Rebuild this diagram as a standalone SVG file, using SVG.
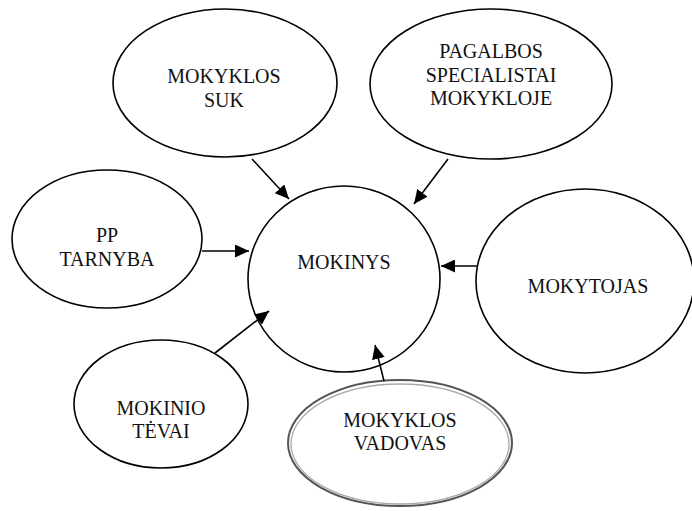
<svg xmlns="http://www.w3.org/2000/svg" width="692" height="511" viewBox="0 0 692 511">
<style>
.n{fill:#fff;stroke:#000;stroke-width:1.6}
.t{font-family:"Liberation Serif","Times New Roman",serif;font-size:20px;fill:#111;text-anchor:middle}
.c{stroke:#000;stroke-width:1.6;fill:none;marker-end:url(#ah)}
</style>
<defs>
<marker id="ah" markerUnits="userSpaceOnUse" markerWidth="15" markerHeight="13" refX="14" refY="6.5" orient="auto">
<path d="M0,0 L14,6.5 L0,13 z" fill="#000"/>
</marker>
</defs>
<rect width="692" height="511" fill="#fff"/>
<g id="n-suk">
<ellipse class="n" cx="225" cy="83" rx="112" ry="74"/>
<text class="t" x="224" y="83">MOKYKLOS</text>
<text class="t" x="224" y="107">SUK</text>
</g>
<g id="n-pagalbos">
<ellipse class="n" cx="491" cy="84" rx="121" ry="75"/>
<text class="t" x="491" y="58">PAGALBOS</text>
<text class="t" x="491" y="82">SPECIALISTAI</text>
<text class="t" x="491" y="105">MOKYKLOJE</text>
</g>
<g id="n-pp">
<ellipse class="n" cx="107" cy="239" rx="95" ry="69"/>
<text class="t" x="107" y="242">PP</text>
<text class="t" x="107" y="266">TARNYBA</text>
</g>
<g id="n-mokinys">
<ellipse class="n" cx="344" cy="279" rx="96" ry="93"/>
<text class="t" x="344" y="269">MOKINYS</text>
</g>
<g id="n-mokytojas">
<ellipse class="n" cx="585" cy="281" rx="109" ry="92"/>
<text class="t" x="588" y="293">MOKYTOJAS</text>
</g>
<g id="n-tevai">
<ellipse class="n" cx="161" cy="404" rx="87" ry="64"/>
<text class="t" x="161" y="415">MOKINIO</text>
<text class="t" x="161" y="438">TĖVAI</text>
</g>
<g id="n-vadovas">
<ellipse cx="400" cy="443" rx="112" ry="63" fill="#fff" stroke="#555" stroke-width="2"/>
<ellipse cx="400" cy="444" rx="109" ry="60" fill="none" stroke="#aaa" stroke-width="1.3"/>
<text class="t" x="400" y="427">MOKYKLOS</text>
<text class="t" x="400" y="450">VADOVAS</text>
</g>
<g id="connectors">
<line class="c" x1="252" y1="159" x2="289" y2="199"/>
<line class="c" x1="448" y1="159" x2="414" y2="204"/>
<line class="c" x1="202" y1="251" x2="249" y2="251"/>
<line class="c" x1="477" y1="266" x2="441" y2="266"/>
<line class="c" x1="215" y1="353" x2="269" y2="311"/>
<line class="c" x1="384" y1="381" x2="375" y2="345"/>
</g>
</svg>
